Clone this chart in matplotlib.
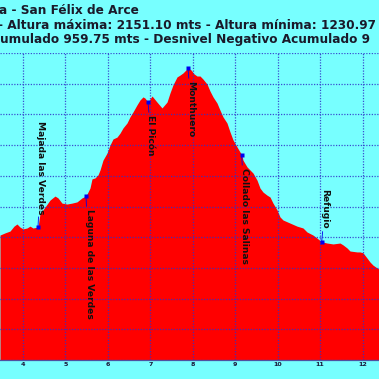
import matplotlib
matplotlib.use("Agg")
import matplotlib.pyplot as plt

# ── data (km / m) ─────────────────────────────────────────────────────────────
dist_km = [3.458, 3.576, 3.694, 3.788, 3.858, 3.929, 4.000, 4.094, 4.165, 4.235,
           4.353, 4.400, 4.518, 4.636, 4.754, 4.824, 4.918, 5.036, 5.154, 5.272,
           5.390, 5.484, 5.578, 5.625, 5.696, 5.767, 5.814, 5.884, 5.979, 6.049,
           6.120, 6.214, 6.285, 6.356, 6.450, 6.520, 6.591, 6.685, 6.756, 6.827,
           6.874, 6.944, 7.039, 7.157, 7.274, 7.392, 7.463, 7.533, 7.628, 7.698,
           7.769, 7.840, 7.887, 7.957, 8.028, 8.099, 8.170, 8.240, 8.334, 8.405,
           8.476, 8.570, 8.640, 8.711, 8.805, 8.876, 8.947, 9.041, 9.152, 9.182,
           9.277, 9.347, 9.418, 9.512, 9.583, 9.654, 9.748, 9.818, 9.889, 9.983,
           10.054, 10.125, 10.290, 10.455, 10.596, 10.690, 10.831, 10.926, 11.036,
           11.161, 11.303, 11.467, 11.538, 11.632, 11.703, 11.868, 11.939, 12.010,
           12.104, 12.175, 12.245, 12.339, 12.386]
elev_m = [1607, 1614, 1620, 1636, 1643, 1633, 1627, 1630, 1636, 1630,
          1633, 1676, 1698, 1721, 1734, 1728, 1711, 1708, 1711, 1715,
          1728, 1734, 1760, 1790, 1793, 1803, 1819, 1851, 1874, 1900,
          1920, 1926, 1939, 1956, 1972, 1992, 2008, 2031, 2047, 2057,
          2053, 2040, 2060, 2040, 2021, 2040, 2070, 2096, 2122, 2128,
          2135, 2145, 2151, 2145, 2132, 2125, 2125, 2115, 2099, 2076,
          2057, 2037, 2014, 1992, 1972, 1943, 1917, 1894, 1868, 1851,
          1829, 1819, 1809, 1786, 1760, 1747, 1737, 1731, 1711, 1689,
          1666, 1656, 1646, 1636, 1630, 1617, 1607, 1597, 1585,
          1581, 1578, 1581, 1575, 1565, 1555, 1552, 1552, 1549,
          1532, 1519, 1509, 1500, 1496]

wp_names = ["Majada las Verdes", "Laguna de las Verdes", "El Picón",
            "Monthuero", "Collado las Salinas", "Refugio"]
wp_km = [4.353, 5.484, 6.944, 7.887, 9.152, 11.036]
wp_elev = [1633, 1734, 2040, 2151, 1868, 1585]
wp_above = [True, False, False, False, False, True]

x_ticks = [4, 5, 6, 7, 8, 9, 10, 11, 12]
y_grid = [1200, 1300, 1400, 1500, 1600, 1700, 1800, 1900, 2000, 2100, 2200]

title_lines = ["a - San Félix de Arce",
               "- Altura máxima: 2151.10 mts - Altura mínima: 1230.97",
               "umulado 959.75 mts - Desnivel Negativo Acumulado 9"]

# ── figure ────────────────────────────────────────────────────────────────────
W = 379
BG = "#77FFFF"

fig = plt.figure(figsize=(W / 100, W / 100), dpi=100, facecolor=BG)
ax = fig.add_axes([0, 1 - 360 / W, 1, (360 - 53) / W])
ax.set_facecolor(BG)

ax.fill_between(dist_km, elev_m, 1100, color="#FF0000", lw=0, zorder=1)

ax.set_xlim(3.458, 12.386)
ax.set_ylim(1200, 2200)
ax.set_xticks(x_ticks)
ax.set_yticks(y_grid)
ax.grid(True, color="#3030C8", linestyle=(0, (1, 1.2)), lw=0.9, alpha=0.85)
ax.set_axisbelow(False)
ax.tick_params(axis="y", length=0, labelleft=False)
ax.tick_params(axis="x", length=0, pad=1.5, labelsize=4.6, labelcolor="#1A1A3A")
for lab in ax.get_xticklabels():
    lab.set_fontweight("bold")
for side in ("top", "left", "right"):
    ax.spines[side].set_visible(False)
ax.spines["bottom"].set_color("#5050A0")
ax.spines["bottom"].set_linewidth(0.9)

# waypoints
for name, km, el, above in zip(wp_names, wp_km, wp_elev, wp_above):
    dy = 13 if above else -13
    ax.annotate(name, xy=(km, el), xytext=(3, dy), textcoords="offset pixels",
                rotation=-90, ha="center", va="bottom" if above else "top",
                fontsize=6.6, fontweight="bold", color="#111111",
                arrowprops=dict(arrowstyle="-", color="#0000EE", lw=0.6,
                                shrinkA=0, shrinkB=0), zorder=5)
    ax.plot(km, el, "s", color="#0000EE", ms=2.2, mec="none", zorder=6)

# ── title (fit width of line 2 to the reference) ─────────────────────────────
r = fig.canvas.get_renderer()
t2 = fig.text(7 / W, 1 - 29 / W, title_lines[1][2:], fontsize=10,
              fontweight="bold", color="#1A1A2A", va="baseline", ha="left")
size = 10 * 367 / t2.get_window_extent(r).width
t2.remove()

for txt, x0, yb in zip(title_lines, [-1, -1.5, 0.5], [14, 29, 43.5]):
    fig.text(x0 / W, 1 - yb / W, txt, fontsize=size, fontweight="bold",
             color="#1A1A2A", va="baseline", ha="left")

fig.savefig("out.png", dpi=100, facecolor=BG)
